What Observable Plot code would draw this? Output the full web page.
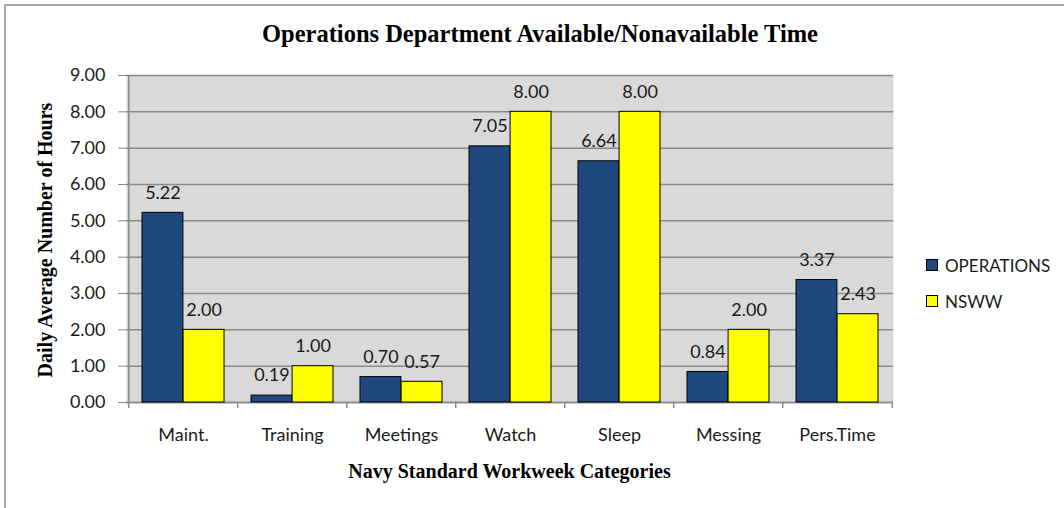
<!DOCTYPE html>
<html>
<head>
<meta charset="utf-8">
<script src="https://cdn.jsdelivr.net/npm/d3@7"></script>
<script src="https://cdn.jsdelivr.net/npm/@observablehq/plot@0.6"></script>
<style>
  html, body { margin: 0; padding: 0; background: #fff; }
  #wrap { position: relative; width: 1064px; height: 508px; overflow: hidden; }
  #frame { position: absolute; left: 4px; top: 4px; width: 1100px; height: 600px;
           border-top: 2px solid #a8a8a8; border-left: 2px solid #a8a8a8; }
  #chart { position: absolute; left: 0; top: 0; }
  .serif { position: absolute; font-family: "Liberation Serif", "DejaVu Serif", serif; font-weight: bold; color: #000; white-space: nowrap; }
  #title { left: 0; width: 1080px; text-align: center; top: 20px; font-size: 24.5px; }
  #xtitle { left: 126px; width: 767px; text-align: center; top: 460px; font-size: 20px; }
  #ytitle { left: 45px; top: 240px; font-size: 20px; transform: translate(-50%, -50%) rotate(-90deg); }
  #legend { position: absolute; left: 926px; top: 255px; font-family: Lato, sans-serif; font-size: 17px; color: #1a1a1a; }
  .item { display: flex; align-items: center; height: 20px; margin-bottom: 16px; }
  .sw { width: 10px; height: 10px; border: 1px solid #000; margin-right: 7px; }
</style>
</head>
<body>
<div id="wrap">
  <div id="frame"></div>
  <div id="chart"></div>
  <div id="title" class="serif">Operations Department Available/Nonavailable Time</div>
  <div id="xtitle" class="serif">Navy Standard Workweek Categories</div>
  <div id="ytitle" class="serif">Daily Average Number of Hours</div>
  <div id="legend"></div>
</div>
<script>
const categories = ["Maint.", "Training", "Meetings", "Watch", "Sleep", "Messing", "Pers.Time"];
const seriesNames = ["OPERATIONS", "NSWW"];
const operations = [5.22, 0.19, 0.70, 7.05, 6.64, 0.84, 3.37];
const nsww = [2.00, 1.00, 0.57, 8.00, 8.00, 2.00, 2.43];
const yTicks = [0, 1, 2, 3, 4, 5, 6, 7, 8, 9];
const colors = ["#1f497d", "#ffff00"];

const data = categories.flatMap((c, i) => [
  {category: c, series: seriesNames[0], value: operations[i]},
  {category: c, series: seriesNames[1], value: nsww[i]}
]);

const W = 1064, H = 508;
const mL = 126, mR = 171, mT = 75, mB = 106;
const step = (W - mL - mR) / categories.length;
const bw = step * 0.75;      // band width
const half = bw / 2;
const FS = 18;

const ops = data.filter(d => d.series === seriesNames[0]);
const nsw = data.filter(d => d.series === seriesNames[1]);

const chart = Plot.plot({
  width: W, height: H,
  marginLeft: mL, marginRight: mR, marginTop: mT, marginBottom: mB,
  style: {fontFamily: "Lato, sans-serif", fontSize: FS + "px", color: "#1a1a1a", background: "transparent"},
  x: {domain: categories, paddingInner: 0.25, paddingOuter: 0.125, label: null},
  y: {domain: [0, 9], label: null},
  marks: [
    Plot.frame({fill: "#d9d9d9", stroke: null}),
    Plot.gridY(yTicks, {stroke: "#8a8a8a", strokeOpacity: 1, strokeWidth: 1.5}),
    Plot.ruleX([categories[0]], {dx: -step / 2, stroke: "#8a8a8a", strokeWidth: 1.5}),
    Plot.ruleY([0], {stroke: "#8a8a8a", strokeWidth: 1.5}),
    Plot.axisY({ticks: yTicks, tickFormat: d3.format(".2f"), tickSize: 8, tickPadding: 13, stroke: "#8a8a8a", fontSize: FS, fill: "#1a1a1a", label: null}),
    Plot.axisX({tickSize: 0, tickPadding: 26, fontSize: FS, fill: "#1a1a1a", label: null}),
    Plot.ruleX(categories, {x: d => d, dx: -step / 2, insetTop: H - mT - mB, insetBottom: -6, stroke: "#8a8a8a", strokeWidth: 1.5}),
    Plot.ruleX([categories[categories.length - 1]], {dx: step / 2, insetTop: H - mT - mB, insetBottom: -6, stroke: "#8a8a8a", strokeWidth: 1.5}),
    Plot.barY(ops, {x: "category", y: "value", fill: colors[0], stroke: "#000", strokeWidth: 1, insetRight: half}),
    Plot.barY(nsw, {x: "category", y: "value", fill: colors[1], stroke: "#000", strokeWidth: 1, insetLeft: half}),
    Plot.text(ops, {x: "category", y: "value", text: d => d.value.toFixed(2), dx: -half / 2, dy: -20, fill: "#1a1a1a", fontSize: FS}),
    Plot.text(nsw, {x: "category", y: "value", text: d => d.value.toFixed(2), dx: half / 2, dy: -20, fill: "#1a1a1a", fontSize: FS})
  ]
});
document.getElementById("chart").appendChild(chart);

const legend = document.getElementById("legend");
seriesNames.forEach((s, i) => {
  const item = document.createElement("div");
  item.className = "item";
  const sw = document.createElement("div");
  sw.className = "sw";
  sw.style.background = colors[i];
  const label = document.createElement("span");
  label.textContent = s;
  item.appendChild(sw);
  item.appendChild(label);
  legend.appendChild(item);
});
</script>
</body>
</html>
